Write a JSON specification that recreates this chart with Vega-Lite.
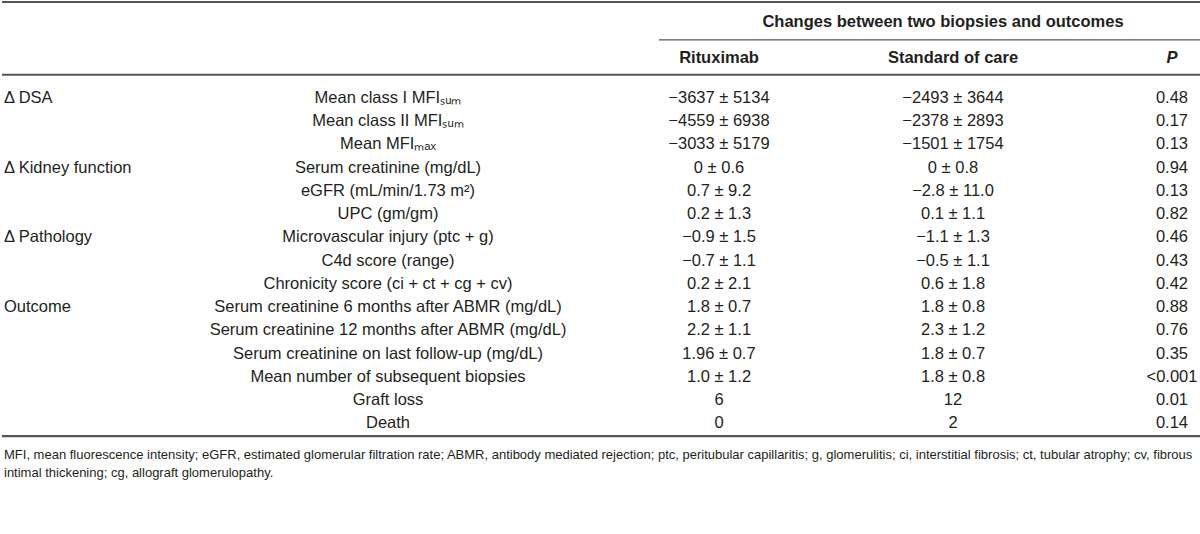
{
  "$schema": "https://vega.github.io/schema/vega-lite/v6.json",
  "width": 1200,
  "height": 534,
  "autosize": {"type": "fit", "contains": "padding"},
  "padding": 0,
  "background": "white",
  "config": {
    "view": {"stroke": null},
    "text": {"font": "Liberation Sans", "fontSize": 16.5, "color": "#231f20", "baseline": "middle"},
    "rule": {"color": "#555555"}
  },
  "datasets": {
    "table": [
      {"row": 0, "group": "Δ DSA", "item": "Mean class I MFIₛᵤₘ", "rit": "−3637 ± 5134", "soc": "−2493 ± 3644", "p": "0.48"},
      {"row": 1, "group": "", "item": "Mean class II MFIₛᵤₘ", "rit": "−4559 ± 6938", "soc": "−2378 ± 2893", "p": "0.17"},
      {"row": 2, "group": "", "item": "Mean MFIₘₐₓ", "rit": "−3033 ± 5179", "soc": "−1501 ± 1754", "p": "0.13"},
      {"row": 3, "group": "Δ Kidney function", "item": "Serum creatinine (mg/dL)", "rit": "0 ± 0.6", "soc": "0 ± 0.8", "p": "0.94"},
      {"row": 4, "group": "", "item": "eGFR (mL/min/1.73 m²)", "rit": "0.7 ± 9.2", "soc": "−2.8 ± 11.0", "p": "0.13"},
      {"row": 5, "group": "", "item": "UPC (gm/gm)", "rit": "0.2 ± 1.3", "soc": "0.1 ± 1.1", "p": "0.82"},
      {"row": 6, "group": "Δ Pathology", "item": "Microvascular injury (ptc + g)", "rit": "−0.9 ± 1.5", "soc": "−1.1 ± 1.3", "p": "0.46"},
      {"row": 7, "group": "", "item": "C4d score (range)", "rit": "−0.7 ± 1.1", "soc": "−0.5 ± 1.1", "p": "0.43"},
      {"row": 8, "group": "", "item": "Chronicity score (ci + ct + cg + cv)", "rit": "0.2 ± 2.1", "soc": "0.6 ± 1.8", "p": "0.42"},
      {"row": 9, "group": "Outcome", "item": "Serum creatinine 6 months after ABMR (mg/dL)", "rit": "1.8 ± 0.7", "soc": "1.8 ± 0.8", "p": "0.88"},
      {"row": 10, "group": "", "item": "Serum creatinine 12 months after ABMR (mg/dL)", "rit": "2.2 ± 1.1", "soc": "2.3 ± 1.2", "p": "0.76"},
      {"row": 11, "group": "", "item": "Serum creatinine on last follow-up (mg/dL)", "rit": "1.96 ± 0.7", "soc": "1.8 ± 0.7", "p": "0.35"},
      {"row": 12, "group": "", "item": "Mean number of subsequent biopsies", "rit": "1.0 ± 1.2", "soc": "1.8 ± 0.8", "p": "<0.001"},
      {"row": 13, "group": "", "item": "Graft loss", "rit": "6", "soc": "12", "p": "0.01"},
      {"row": 14, "group": "", "item": "Death", "rit": "0", "soc": "2", "p": "0.14"}
    ],
    "labels": [
      {"label": "Changes between two biopsies and outcomes"},
      {"label": "Rituximab"},
      {"label": "Standard of care"},
      {"label": "P"},
      {"label": "MFI, mean fluorescence intensity; eGFR, estimated glomerular filtration rate; ABMR, antibody mediated rejection; ptc, peritubular capillaritis; g, glomerulitis; ci, interstitial fibrosis; ct, tubular atrophy; cv, fibrous"},
      {"label": "intimal thickening; cg, allograft glomerulopathy."}
    ]
  },
  "layer": [
    {"data": {"values": [{"k": 1}]}, "mark": {"type": "rule", "strokeWidth": 2.2},
     "encoding": {
       "x": {"datum": 0, "type": "quantitative", "axis": null, "scale": {"domain": [0, 1, 2, 3, 4, 5, 6, 7, 8], "range": [0, 2, 386, 657, 717, 941, 951, 1170, 1200], "nice": false, "zero": false}},
       "x2": {"datum": 8},
       "y": {"datum": -4.12, "type": "quantitative", "axis": null, "scale": {"domain": [-4.163, 18.755], "reverse": true, "nice": false, "zero": false}}}},
    {"data": {"values": [{"k": 1}]}, "mark": {"type": "rule", "strokeWidth": 1.3}, "encoding": {"y": {"datum": -2.49, "type": "quantitative"}, "x": {"datum": 3, "type": "quantitative"}, "x2": {"datum": 8}}},
    {"data": {"values": [{"k": 1}]}, "mark": {"type": "rule", "strokeWidth": 2}, "encoding": {"y": {"datum": -0.99, "type": "quantitative"}, "x": {"datum": 0, "type": "quantitative"}, "x2": {"datum": 8}}},
    {"data": {"values": [{"k": 1}]}, "mark": {"type": "rule", "strokeWidth": 2.2}, "encoding": {"y": {"datum": 14.55, "type": "quantitative"}, "x": {"datum": 0, "type": "quantitative"}, "x2": {"datum": 8}}},
    {"data": {"name": "labels"}, "transform": [{"filter": "datum.label === 'Changes between two biopsies and outcomes'"}], "mark": {"type": "text", "fontWeight": "bold", "align": "center"}, "encoding": {"y": {"datum": -3.26, "type": "quantitative"}, "x": {"datum": 5, "type": "quantitative"}, "text": {"field": "label"}}},
    {"data": {"name": "labels"}, "transform": [{"filter": "datum.label === 'Rituximab'"}], "mark": {"type": "text", "fontWeight": "bold", "align": "center"}, "encoding": {"y": {"datum": -1.72, "type": "quantitative"}, "x": {"datum": 4, "type": "quantitative"}, "text": {"field": "label"}}},
    {"data": {"name": "labels"}, "transform": [{"filter": "datum.label === 'Standard of care'"}], "mark": {"type": "text", "fontWeight": "bold", "align": "center"}, "encoding": {"y": {"datum": -1.72, "type": "quantitative"}, "x": {"datum": 6, "type": "quantitative"}, "text": {"field": "label"}}},
    {"data": {"name": "labels"}, "transform": [{"filter": "datum.label === 'P'"}], "mark": {"type": "text", "fontWeight": "bold", "fontStyle": "italic", "align": "center"}, "encoding": {"y": {"datum": -1.72, "type": "quantitative"}, "x": {"datum": 7, "type": "quantitative"}, "text": {"field": "label"}}},
    {"data": {"name": "table"}, "mark": {"type": "text", "align": "left"}, "encoding": {"x": {"datum": 1, "type": "quantitative"}, "y": {"field": "row", "type": "quantitative"}, "text": {"field": "group"}}},
    {"data": {"name": "table"}, "mark": {"type": "text", "align": "center"}, "encoding": {"x": {"datum": 2, "type": "quantitative"}, "y": {"field": "row", "type": "quantitative"}, "text": {"field": "item"}}},
    {"data": {"name": "table"}, "mark": {"type": "text", "align": "center"}, "encoding": {"x": {"datum": 4, "type": "quantitative"}, "y": {"field": "row", "type": "quantitative"}, "text": {"field": "rit"}}},
    {"data": {"name": "table"}, "mark": {"type": "text", "align": "center"}, "encoding": {"x": {"datum": 6, "type": "quantitative"}, "y": {"field": "row", "type": "quantitative"}, "text": {"field": "soc"}}},
    {"data": {"name": "table"}, "mark": {"type": "text", "align": "center"}, "encoding": {"x": {"datum": 7, "type": "quantitative"}, "y": {"field": "row", "type": "quantitative"}, "text": {"field": "p"}}},
    {"data": {"name": "labels"}, "transform": [{"filter": "indexof(datum.label, 'MFI, mean') === 0"}], "mark": {"type": "text", "align": "left", "fontSize": 13}, "encoding": {"x": {"datum": 1, "type": "quantitative"}, "y": {"datum": 15.36, "type": "quantitative"}, "text": {"field": "label"}}},
    {"data": {"name": "labels"}, "transform": [{"filter": "indexof(datum.label, 'intimal') === 0"}], "mark": {"type": "text", "align": "left", "fontSize": 13}, "encoding": {"x": {"datum": 1, "type": "quantitative"}, "y": {"datum": 16.14, "type": "quantitative"}, "text": {"field": "label"}}}
  ]
}
